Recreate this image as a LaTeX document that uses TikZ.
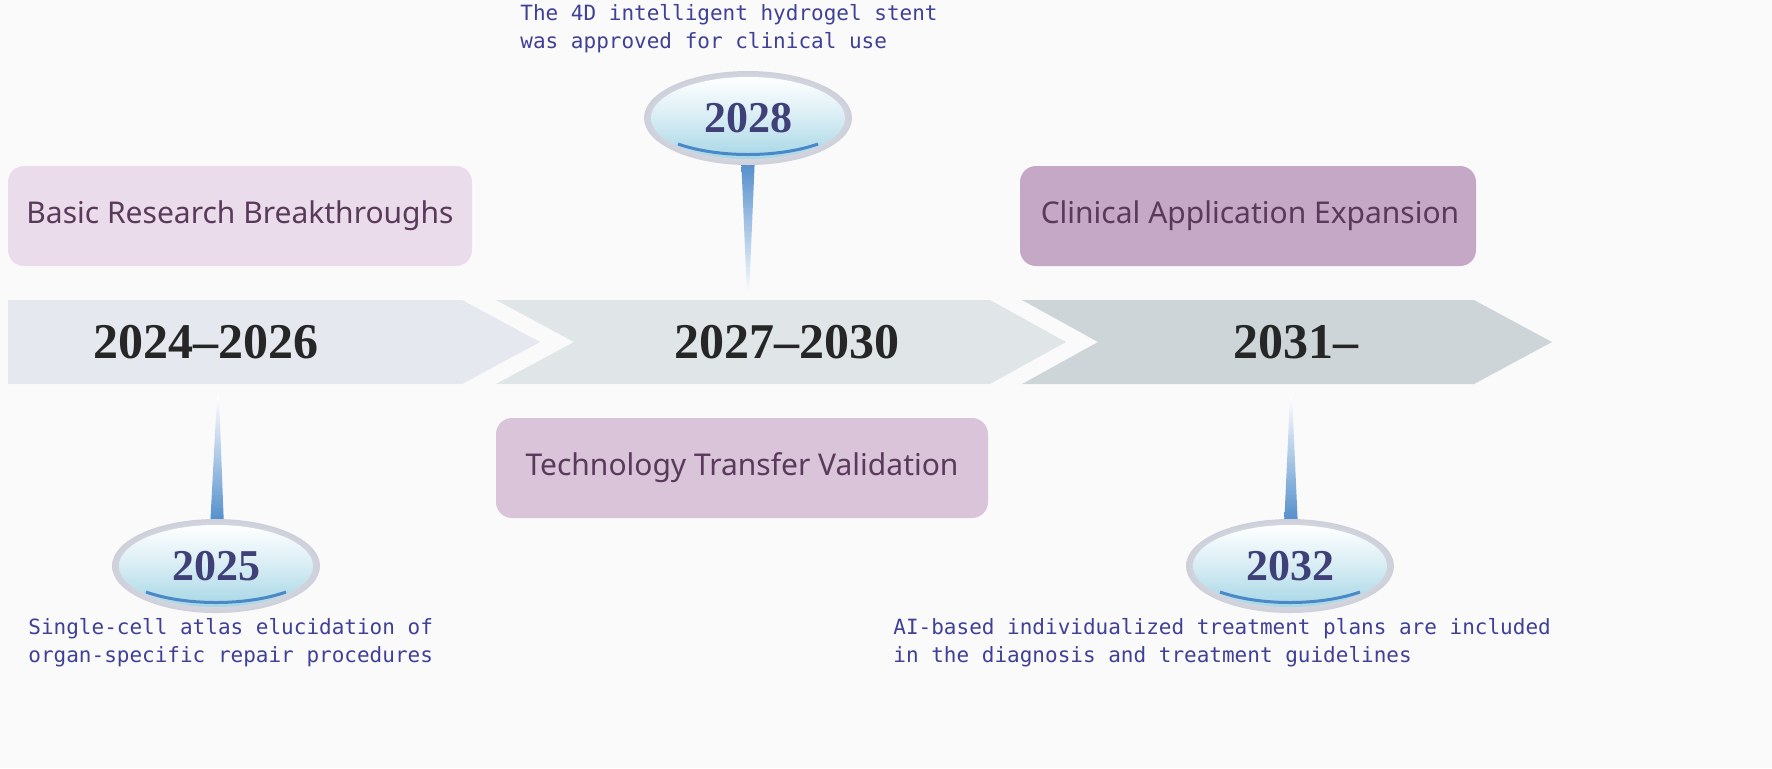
\documentclass[tikz,border=0pt]{standalone}
\usepackage{fontspec}
\setmainfont{Noto Sans}
\newfontfamily\yearfont{Liberation Serif}
\newfontfamily\notefont{DejaVu Sans Mono}
\begin{document}
\begin{tikzpicture}[x=0.5pt,y=-0.5pt,
  stagebox/.style={draw=none,rounded corners=8pt},
  stagetxt/.style={font=\fontsize{15}{18}\selectfont},
  yeartxt/.style={font=\yearfont\bfseries\fontsize{25}{30}\selectfont,text=black!85},
  pinyear/.style={font=\yearfont\bfseries\fontsize{22}{26}\selectfont,text=blue!30!black!75},
  notetxt/.style={font=\notefont\fontsize{10.5}{14}\selectfont,text=blue!45!black!75,align=left,anchor=north west,inner sep=0pt}]
\definecolor{bg}{HTML}{FAFAFB}
\definecolor{arA}{HTML}{E6E8F0}
\definecolor{arB}{HTML}{E0E6E8}
\definecolor{arC}{HTML}{CDD5D8}
\definecolor{bxA}{HTML}{EADCEA}
\definecolor{bxB}{HTML}{D9C4D9}
\definecolor{bxC}{HTML}{C5A8C5}
\definecolor{stg}{HTML}{5A3A5A}
\definecolor{pinblue}{HTML}{4A88C8}
\definecolor{ringc}{HTML}{CDD0DA}
\definecolor{innc}{HTML}{A6D6E6}
\fill[bg] (0,0) rectangle (1772,768);
% arrows
\fill[arA] (8,300)--(462,300)--(540,342)--(462,384)--(8,384)--cycle;
\fill[arB] (496,300)--(990,300)--(1066,342)--(990,384)--(496,384)--(574,342)--cycle;
\fill[arC] (1022,300)--(1474,300)--(1552,342)--(1474,384)--(1022,384)--(1098,342)--cycle;
\node[yeartxt] (y1) at (206,342) {2024–2026};
\node[yeartxt] (y2) at (787,342) {2027–2030};
\node[yeartxt] (y3) at (1296,342) {2031–};
% stage boxes
\fill[bxA,stagebox] (8,166) rectangle (472,266);
\fill[bxB,stagebox] (496,418) rectangle (988,518);
\fill[bxC,stagebox] (1020,166) rectangle (1476,266);
\node[stagetxt,text=stg] (s1) at (240,216) {Basic Research Breakthroughs};
\node[stagetxt,text=stg] (s2) at (742,468) {Technology Transfer Validation};
\node[stagetxt,text=stg] (s3) at (1250,216) {Clinical Application Expansion};
% pins
\shade[top color=pinblue,bottom color=white] (741,155)--(755,155)--(749,296)--(747,296)--cycle;
\shade[top color=white,bottom color=pinblue] (217,396)--(219,396)--(224,528)--(210,528)--cycle;
\shade[top color=white,bottom color=pinblue] (1290,396)--(1292,396)--(1298,528)--(1284,528)--cycle;
% ellipses
\foreach \cx/\cy/\nm/\yr in {748/118/e1/2028,216/566/e2/2025,1290/566/e3/2032}{
  \shade[inner color=white,outer color=ringc] (\cx,\cy) ellipse [x radius=104,y radius=47];
  \shade[top color=white,bottom color=innc,middle color=innc!45] (\cx,\cy) ellipse [x radius=97,y radius=41];
  \draw[pinblue,line width=1.5pt] (\cx-70,\cy+26) .. controls (\cx-30,\cy+40) and (\cx+30,\cy+40) .. (\cx+70,\cy+26);
  \node[pinyear] (\nm) at (\cx,\cy) {\yr};
}
% notes
\node[notetxt] (n1) at (520,4) {The 4D intelligent hydrogel stent\\was approved for clinical use};
\node[notetxt] (n2) at (28,618) {Single-cell atlas elucidation of\\organ-specific repair procedures};
\node[notetxt] (n3) at (893,618) {AI-based individualized treatment plans are included\\in the diagnosis and treatment guidelines};
\end{tikzpicture}
\end{document}
